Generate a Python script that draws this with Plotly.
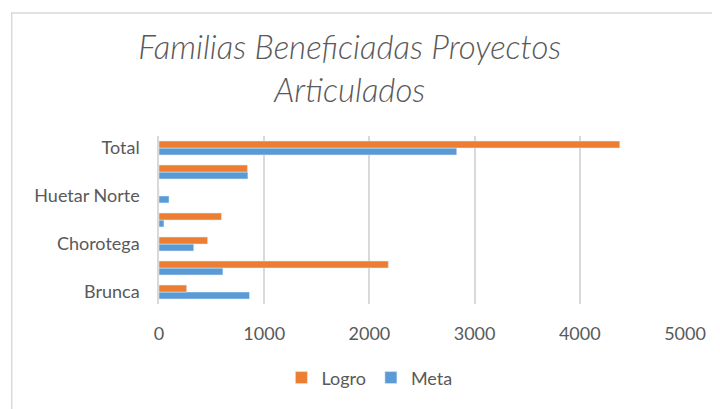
import plotly.graph_objects as go

# Datos
regiones = ['Brunca', 'Central', 'Chorotega', 'Huetar Caribe', 'Huetar Norte', 'Pacífico Central', 'Total']
etiquetas = ['Brunca', '', 'Chorotega', '', 'Huetar Norte', '', 'Total']
meta = [860, 607, 330, 47, 95, 845, 2830]
logro = [263, 2180, 462, 594, 0, 841, 4380]

fig = go.Figure()

fig.add_trace(go.Bar(
    y=regiones, x=meta, name='Meta', orientation='h',
    marker=dict(color='#5B9BD5'), legendrank=2
))
fig.add_trace(go.Bar(
    y=regiones, x=logro, name='Logro', orientation='h',
    marker=dict(color='#ED7D31'), legendrank=1
))

# Borde del gráfico
fig.add_shape(
    type='rect', xref='paper', yref='paper',
    x0=-0.280, x1=1.2, y0=-0.8, y1=1.732,
    line=dict(color='#D9D9D9', width=1.5), fillcolor='rgba(0,0,0,0)', layer='below'
)

fig.update_layout(
    width=712, height=401,
    margin=dict(l=151, r=35, t=128, b=103),
    paper_bgcolor='white', plot_bgcolor='white',
    barmode='group', bargap=0.42, bargroupgap=0,
    title=dict(
        text='Familias Beneficiadas Proyectos<br>Articulados',
        x=0.48, xanchor='center', y=0.872, yanchor='middle',
        font=dict(family='Lato', size=33, color='#595959', style='italic', weight=300)
    ),
    xaxis=dict(
        range=[0, 5000], dtick=1000, showgrid=True, gridcolor='#D9D9D9', gridwidth=1.5,
        zeroline=False, showline=False, ticks='',
        tickfont=dict(family='Lato', size=18, color='#595959'),
        ticklabelstandoff=17
    ),
    yaxis=dict(
        categoryorder='array', categoryarray=regiones,
        tickvals=regiones, ticktext=etiquetas,
        showgrid=False, showline=True, linecolor='#D9D9D9', linewidth=1.5, ticks='',
        tickfont=dict(family='Lato', size=18, color='#595959'),
        ticklabelstandoff=14
    ),
    legend=dict(
        orientation='h', x=0.40, xanchor='center', y=-0.44, yanchor='middle',
        font=dict(family='Lato', size=18, color='#595959'),
        itemwidth=30, tracegroupgap=0
    ),
    showlegend=True
)

fig.write_html('out.html')
